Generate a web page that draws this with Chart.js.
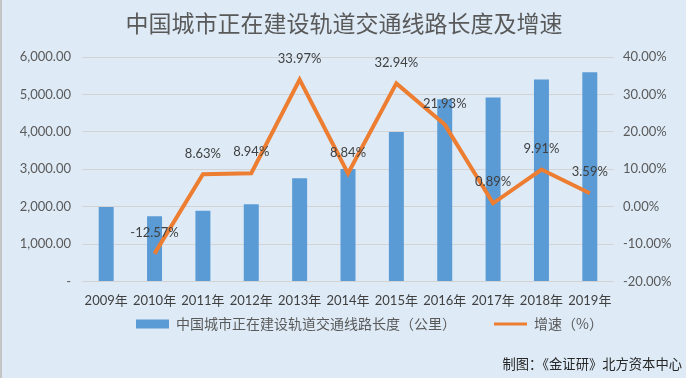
<!DOCTYPE html>
<html><head><meta charset="utf-8">
<script src="https://cdn.jsdelivr.net/npm/chart.js@4.4.0/dist/chart.umd.min.js"></script>
<style>html,body{margin:0;padding:0;background:#deebf7;}#wrap{width:686px;height:378px;}</style>
</head><body><div id="wrap"><canvas id="c" width="686" height="378"></canvas></div>
<script>
const titleText = '中国城市正在建设轨道交通线路长度及增速';
const sourceText = '制图：《金证研》北方资本中心';
const years = ['2009年','2010年','2011年','2012年','2013年','2014年','2015年','2016年','2017年','2018年','2019年'];
const lengthKm = [1992, 1742, 1892, 2061, 2761, 3005, 3995, 4871, 4914, 5401, 5595];
const growthPct = [null, -12.57, 8.63, 8.94, 33.97, 8.84, 32.94, 21.93, 0.89, 9.91, 3.59];
const leftTicks = ['-', '1,000.00', '2,000.00', '3,000.00', '4,000.00', '5,000.00', '6,000.00'];
const rightTicks = ['-20.00%', '-10.00%', '0.00%', '10.00%', '20.00%', '30.00%', '40.00%'];
const seriesNames = ['中国城市正在建设轨道交通线路长度（公里）', '增速（%）'];

const BAR = '#5b9bd5', LINE = '#ed7d31', BG = '#deebf7';
const NUMFONT = "Lato, 'Noto Sans CJK SC', sans-serif";
const CJK = "'Noto Sans CJK SC', sans-serif";

const decor = {
  id: 'decor',
  beforeDraw(chart) {
    const ctx = chart.ctx;
    ctx.save();
    ctx.fillStyle = BG;
    ctx.fillRect(0, 0, chart.width, chart.height);
    ctx.fillStyle = '#c4c4c4';
    ctx.fillRect(0, 0, 2, chart.height);
    ctx.fillStyle = '#595959';
    ctx.font = "23px " + CJK;
    ctx.textAlign = 'center';
    ctx.textBaseline = 'middle';
    ctx.fillText(titleText, 344, 23);
    ctx.fillStyle = '#262626';
    ctx.font = "13.3px " + CJK;
    ctx.textAlign = 'right';
    ctx.fillText(sourceText, 682, 364);
    ctx.restore();
  },
  afterLayout(chart) {
    const lg = chart.legend;
    if (!lg || !lg.lineWidths) return;
    const p = lg.options.labels.padding;
    const curX = (lg.left + p + lg.right - lg.lineWidths[0]) / 2;
    const dx = 136 - curX;
    const dy = (324 - 7 - p) - lg.top;
    lg.left += dx; lg.right += dx; lg.top += dy; lg.bottom += dy;
  },
  afterDatasetsDraw(chart) {
    const ctx = chart.ctx;
    const meta = chart.getDatasetMeta(1);
    ctx.save();
    ctx.fillStyle = '#404040';
    ctx.font = "13px " + NUMFONT;
    ctx.textAlign = 'center';
    ctx.textBaseline = 'middle';
    meta.data.forEach((pt, i) => {
      const v = growthPct[i];
      if (v === null || v === undefined) return;
      ctx.fillText(v.toFixed(2) + '%', pt.x, pt.y - 21);
    });
    ctx.restore();
  }
};

new Chart(document.getElementById('c'), {
  type: 'bar',
  data: {
    labels: years,
    datasets: [
      {
        type: 'bar', label: seriesNames[0], data: lengthKm, yAxisID: 'y',
        backgroundColor: BAR, borderWidth: 0, order: 1,
        barPercentage: 0.62, categoryPercentage: 0.5
      },
      {
        type: 'line', label: seriesNames[1], data: growthPct, yAxisID: 'y1',
        borderColor: LINE, backgroundColor: LINE, borderWidth: 4,
        pointRadius: 0, tension: 0, order: 0, spanGaps: false,
        borderJoinStyle: 'miter'
      }
    ]
  },
  options: {
    responsive: false,
    animation: false,
    devicePixelRatio: 1,
    layout: { padding: { top: 57, bottom: -5, left: 0, right: 0 } },
    plugins: {
      title: { display: false },
      tooltip: { enabled: false },
      legend: {
        display: true,
        position: 'bottom',
        labels: {
          usePointStyle: true,
          pointStyleWidth: 33,
          boxHeight: 9,
          padding: 38,
          color: '#595959',
          font: { family: CJK, size: 14 },
          generateLabels(chart) {
            return [
              { text: seriesNames[0], fillStyle: BAR, strokeStyle: BAR, lineWidth: 0, pointStyle: 'rect', datasetIndex: 0, hidden: false, fontColor: '#595959' },
              { text: seriesNames[1], fillStyle: LINE, strokeStyle: LINE, lineWidth: 3, pointStyle: 'line', datasetIndex: 1, hidden: false, fontColor: '#595959' }
            ];
          }
        }
      }
    },
    scales: {
      x: {
        grid: { display: false, drawTicks: false },
        border: { display: false },
        ticks: { color: '#404040', font: { family: NUMFONT, size: 13 }, padding: 12, autoSkip: false, maxRotation: 0, minRotation: 0 }
      },
      y: {
        position: 'left', min: 0, max: 6000,
        afterFit(s) { s.width = 82; },
        grid: { color: '#d3d3d3', lineWidth: 1, drawTicks: false },
        border: { display: false },
        ticks: {
          stepSize: 1000, padding: 11, color: '#595959',
          font: { family: NUMFONT, size: 13 },
          callback(v, i) { return leftTicks[i]; }
        }
      },
      y1: {
        position: 'right', min: -20, max: 40,
        afterFit(s) { s.width = 72; },
        grid: { display: false, drawTicks: false },
        border: { display: false },
        ticks: {
          stepSize: 10, padding: 9, color: '#595959',
          font: { family: NUMFONT, size: 13 },
          callback(v, i) { return rightTicks[i]; }
        }
      }
    }
  },
  plugins: [decor]
});
</script>
</body></html>
